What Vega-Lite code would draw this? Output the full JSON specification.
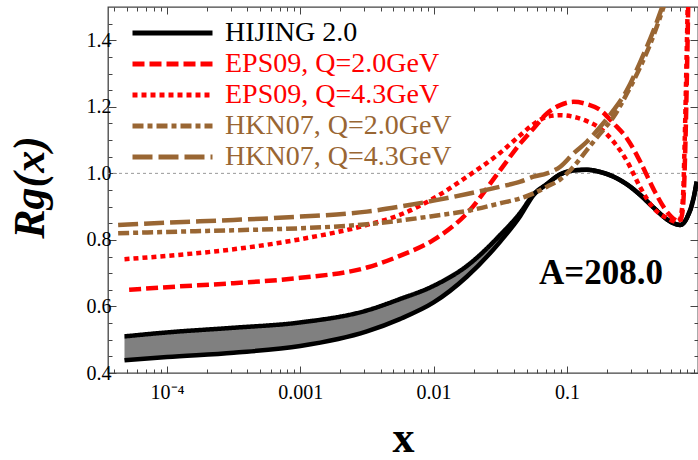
{
  "$schema": "https://vega.github.io/schema/vega-lite/v6.json",
  "width": 590,
  "height": 366,
  "autosize": {"type": "none"},
  "padding": {"left": 108, "top": 7, "right": 0, "bottom": 87},
  "background": "white",
  "config": {
    "view": {"stroke": "#444", "strokeWidth": 1.3},
    "font": "Liberation Serif",
    "axis": {"domain": false, "grid": false, "tickColor": "#444", "tickWidth": 1, "labelFont": "Liberation Serif", "labelFontSize": 20, "labelColor": "black", "titleFont": "Liberation Serif", "titleColor": "black"}
  },
  "datasets": {
    "band": [
      {"x": 4.8e-5, "lo": 0.438, "hi": 0.51},
      {"x": 1e-4, "lo": 0.448, "hi": 0.522},
      {"x": 3.16e-4, "lo": 0.461, "hi": 0.536},
      {"x": 1e-3, "lo": 0.481, "hi": 0.552},
      {"x": 3.16e-3, "lo": 0.525, "hi": 0.588},
      {"x": 5.57e-3, "lo": 0.562, "hi": 0.622},
      {"x": 0.01, "lo": 0.612, "hi": 0.662},
      {"x": 0.0178, "lo": 0.69, "hi": 0.722},
      {"x": 0.0316, "lo": 0.795, "hi": 0.815},
      {"x": 0.0447, "lo": 0.872, "hi": 0.882},
      {"x": 0.0562, "lo": 0.935, "hi": 0.937},
      {"x": 0.0708, "lo": 0.968, "hi": 0.968},
      {"x": 0.0891, "lo": 0.997, "hi": 0.997},
      {"x": 0.112, "lo": 1.009, "hi": 1.009},
      {"x": 0.141, "lo": 1.011, "hi": 1.011},
      {"x": 0.178, "lo": 1.004, "hi": 1.004},
      {"x": 0.224, "lo": 0.99, "hi": 0.99},
      {"x": 0.282, "lo": 0.967, "hi": 0.967},
      {"x": 0.355, "lo": 0.935, "hi": 0.935},
      {"x": 0.447, "lo": 0.897, "hi": 0.897},
      {"x": 0.562, "lo": 0.862, "hi": 0.862},
      {"x": 0.631, "lo": 0.85, "hi": 0.85},
      {"x": 0.708, "lo": 0.845, "hi": 0.845},
      {"x": 0.794, "lo": 0.866, "hi": 0.866},
      {"x": 0.891, "lo": 0.925, "hi": 0.925},
      {"x": 0.94, "lo": 0.975, "hi": 0.975}
    ],
    "curves": [
      {"series": "HIJING 2.0", "x": 4.8e-5, "y": 0.51},
      {"series": "HIJING 2.0", "x": 1e-4, "y": 0.522},
      {"series": "HIJING 2.0", "x": 3.16e-4, "y": 0.536},
      {"series": "HIJING 2.0", "x": 1e-3, "y": 0.552},
      {"series": "HIJING 2.0", "x": 3.16e-3, "y": 0.588},
      {"series": "HIJING 2.0", "x": 5.57e-3, "y": 0.622},
      {"series": "HIJING 2.0", "x": 0.01, "y": 0.662},
      {"series": "HIJING 2.0", "x": 0.0178, "y": 0.722},
      {"series": "HIJING 2.0", "x": 0.0316, "y": 0.815},
      {"series": "HIJING 2.0", "x": 0.0447, "y": 0.882},
      {"series": "HIJING 2.0", "x": 0.0562, "y": 0.937},
      {"series": "HIJING 2.0", "x": 0.0708, "y": 0.968},
      {"series": "HIJING 2.0", "x": 0.0891, "y": 0.997},
      {"series": "HIJING 2.0", "x": 0.112, "y": 1.009},
      {"series": "HIJING 2.0", "x": 0.141, "y": 1.011},
      {"series": "HIJING 2.0", "x": 0.178, "y": 1.004},
      {"series": "HIJING 2.0", "x": 0.224, "y": 0.99},
      {"series": "HIJING 2.0", "x": 0.282, "y": 0.967},
      {"series": "HIJING 2.0", "x": 0.355, "y": 0.935},
      {"series": "HIJING 2.0", "x": 0.447, "y": 0.897},
      {"series": "HIJING 2.0", "x": 0.562, "y": 0.862},
      {"series": "HIJING 2.0", "x": 0.631, "y": 0.85},
      {"series": "HIJING 2.0", "x": 0.708, "y": 0.845},
      {"series": "HIJING 2.0", "x": 0.794, "y": 0.866},
      {"series": "HIJING 2.0", "x": 0.891, "y": 0.925},
      {"series": "HIJING 2.0", "x": 0.94, "y": 0.975},

      {"series": "EPS09, Q=2.0GeV", "x": 5.2e-5, "y": 0.65},
      {"series": "EPS09, Q=2.0GeV", "x": 1e-4, "y": 0.658},
      {"series": "EPS09, Q=2.0GeV", "x": 3.16e-4, "y": 0.67},
      {"series": "EPS09, Q=2.0GeV", "x": 1e-3, "y": 0.686},
      {"series": "EPS09, Q=2.0GeV", "x": 3.16e-3, "y": 0.717},
      {"series": "EPS09, Q=2.0GeV", "x": 5.57e-3, "y": 0.752},
      {"series": "EPS09, Q=2.0GeV", "x": 0.01, "y": 0.8},
      {"series": "EPS09, Q=2.0GeV", "x": 0.0178, "y": 0.88},
      {"series": "EPS09, Q=2.0GeV", "x": 0.0316, "y": 1.01},
      {"series": "EPS09, Q=2.0GeV", "x": 0.0447, "y": 1.09},
      {"series": "EPS09, Q=2.0GeV", "x": 0.0562, "y": 1.135},
      {"series": "EPS09, Q=2.0GeV", "x": 0.0708, "y": 1.18},
      {"series": "EPS09, Q=2.0GeV", "x": 0.0891, "y": 1.205},
      {"series": "EPS09, Q=2.0GeV", "x": 0.112, "y": 1.215},
      {"series": "EPS09, Q=2.0GeV", "x": 0.141, "y": 1.208},
      {"series": "EPS09, Q=2.0GeV", "x": 0.178, "y": 1.19},
      {"series": "EPS09, Q=2.0GeV", "x": 0.224, "y": 1.15},
      {"series": "EPS09, Q=2.0GeV", "x": 0.282, "y": 1.105},
      {"series": "EPS09, Q=2.0GeV", "x": 0.355, "y": 1.035},
      {"series": "EPS09, Q=2.0GeV", "x": 0.447, "y": 0.952},
      {"series": "EPS09, Q=2.0GeV", "x": 0.562, "y": 0.885},
      {"series": "EPS09, Q=2.0GeV", "x": 0.65, "y": 0.86},
      {"series": "EPS09, Q=2.0GeV", "x": 0.7, "y": 0.855},
      {"series": "EPS09, Q=2.0GeV", "x": 0.73, "y": 0.875},
      {"series": "EPS09, Q=2.0GeV", "x": 0.755, "y": 0.95},
      {"series": "EPS09, Q=2.0GeV", "x": 0.775, "y": 1.1},
      {"series": "EPS09, Q=2.0GeV", "x": 0.795, "y": 1.3},
      {"series": "EPS09, Q=2.0GeV", "x": 0.82, "y": 1.6},

      {"series": "EPS09, Q=4.3GeV", "x": 4.8e-5, "y": 0.742},
      {"series": "EPS09, Q=4.3GeV", "x": 1e-4, "y": 0.752},
      {"series": "EPS09, Q=4.3GeV", "x": 3.16e-4, "y": 0.772},
      {"series": "EPS09, Q=4.3GeV", "x": 1e-3, "y": 0.802},
      {"series": "EPS09, Q=4.3GeV", "x": 3.16e-3, "y": 0.845},
      {"series": "EPS09, Q=4.3GeV", "x": 5.57e-3, "y": 0.875},
      {"series": "EPS09, Q=4.3GeV", "x": 0.01, "y": 0.925},
      {"series": "EPS09, Q=4.3GeV", "x": 0.0178, "y": 0.99},
      {"series": "EPS09, Q=4.3GeV", "x": 0.0316, "y": 1.062},
      {"series": "EPS09, Q=4.3GeV", "x": 0.0447, "y": 1.115},
      {"series": "EPS09, Q=4.3GeV", "x": 0.0562, "y": 1.148},
      {"series": "EPS09, Q=4.3GeV", "x": 0.0708, "y": 1.17},
      {"series": "EPS09, Q=4.3GeV", "x": 0.0891, "y": 1.175},
      {"series": "EPS09, Q=4.3GeV", "x": 0.112, "y": 1.17},
      {"series": "EPS09, Q=4.3GeV", "x": 0.141, "y": 1.157},
      {"series": "EPS09, Q=4.3GeV", "x": 0.178, "y": 1.135},
      {"series": "EPS09, Q=4.3GeV", "x": 0.224, "y": 1.095},
      {"series": "EPS09, Q=4.3GeV", "x": 0.282, "y": 1.037},
      {"series": "EPS09, Q=4.3GeV", "x": 0.355, "y": 0.958},
      {"series": "EPS09, Q=4.3GeV", "x": 0.447, "y": 0.895},
      {"series": "EPS09, Q=4.3GeV", "x": 0.562, "y": 0.866},
      {"series": "EPS09, Q=4.3GeV", "x": 0.65, "y": 0.855},
      {"series": "EPS09, Q=4.3GeV", "x": 0.7, "y": 0.86},
      {"series": "EPS09, Q=4.3GeV", "x": 0.74, "y": 0.92},
      {"series": "EPS09, Q=4.3GeV", "x": 0.765, "y": 1.1},
      {"series": "EPS09, Q=4.3GeV", "x": 0.79, "y": 1.35},
      {"series": "EPS09, Q=4.3GeV", "x": 0.815, "y": 1.6},

      {"series": "HKN07, Q=2.0GeV", "x": 4.3e-5, "y": 0.82},
      {"series": "HKN07, Q=2.0GeV", "x": 1e-4, "y": 0.824},
      {"series": "HKN07, Q=2.0GeV", "x": 3.16e-4, "y": 0.829},
      {"series": "HKN07, Q=2.0GeV", "x": 1e-3, "y": 0.835},
      {"series": "HKN07, Q=2.0GeV", "x": 3.16e-3, "y": 0.847},
      {"series": "HKN07, Q=2.0GeV", "x": 5.57e-3, "y": 0.858},
      {"series": "HKN07, Q=2.0GeV", "x": 0.01, "y": 0.872},
      {"series": "HKN07, Q=2.0GeV", "x": 0.0178, "y": 0.887},
      {"series": "HKN07, Q=2.0GeV", "x": 0.0316, "y": 0.91},
      {"series": "HKN07, Q=2.0GeV", "x": 0.0447, "y": 0.925},
      {"series": "HKN07, Q=2.0GeV", "x": 0.0562, "y": 0.94},
      {"series": "HKN07, Q=2.0GeV", "x": 0.0708, "y": 0.96},
      {"series": "HKN07, Q=2.0GeV", "x": 0.0891, "y": 0.982},
      {"series": "HKN07, Q=2.0GeV", "x": 0.112, "y": 1.02},
      {"series": "HKN07, Q=2.0GeV", "x": 0.141, "y": 1.07},
      {"series": "HKN07, Q=2.0GeV", "x": 0.178, "y": 1.12},
      {"series": "HKN07, Q=2.0GeV", "x": 0.224, "y": 1.17},
      {"series": "HKN07, Q=2.0GeV", "x": 0.282, "y": 1.24},
      {"series": "HKN07, Q=2.0GeV", "x": 0.355, "y": 1.32},
      {"series": "HKN07, Q=2.0GeV", "x": 0.447, "y": 1.415},
      {"series": "HKN07, Q=2.0GeV", "x": 0.562, "y": 1.53},

      {"series": "HKN07, Q=4.3GeV", "x": 4.3e-5, "y": 0.845},
      {"series": "HKN07, Q=4.3GeV", "x": 1e-4, "y": 0.852},
      {"series": "HKN07, Q=4.3GeV", "x": 3.16e-4, "y": 0.86},
      {"series": "HKN07, Q=4.3GeV", "x": 1e-3, "y": 0.87},
      {"series": "HKN07, Q=4.3GeV", "x": 3.16e-3, "y": 0.885},
      {"series": "HKN07, Q=4.3GeV", "x": 5.57e-3, "y": 0.9},
      {"series": "HKN07, Q=4.3GeV", "x": 0.01, "y": 0.918},
      {"series": "HKN07, Q=4.3GeV", "x": 0.0178, "y": 0.938},
      {"series": "HKN07, Q=4.3GeV", "x": 0.0316, "y": 0.96},
      {"series": "HKN07, Q=4.3GeV", "x": 0.0447, "y": 0.975},
      {"series": "HKN07, Q=4.3GeV", "x": 0.0562, "y": 0.99},
      {"series": "HKN07, Q=4.3GeV", "x": 0.0708, "y": 1.0},
      {"series": "HKN07, Q=4.3GeV", "x": 0.0891, "y": 1.02},
      {"series": "HKN07, Q=4.3GeV", "x": 0.112, "y": 1.06},
      {"series": "HKN07, Q=4.3GeV", "x": 0.141, "y": 1.095},
      {"series": "HKN07, Q=4.3GeV", "x": 0.178, "y": 1.14},
      {"series": "HKN07, Q=4.3GeV", "x": 0.224, "y": 1.19},
      {"series": "HKN07, Q=4.3GeV", "x": 0.282, "y": 1.25},
      {"series": "HKN07, Q=4.3GeV", "x": 0.355, "y": 1.335},
      {"series": "HKN07, Q=4.3GeV", "x": 0.447, "y": 1.43},
      {"series": "HKN07, Q=4.3GeV", "x": 0.562, "y": 1.54}
    ],
    "note": [{"x": 0.18, "y": 0.7, "t": "A=208.0"}],
    "unity": [{"y": 1.0}]
  },
  "layer": [
    {
      "data": {"name": "band"},
      "mark": {"type": "area", "color": "#808080", "opacity": 1, "interpolate": "monotone", "clip": true},
      "encoding": {
        "x": {"field": "x", "type": "quantitative", "scale": {"type": "log", "domain": [3.61e-5, 0.962], "nice": false},
          "axis": {"orient": "bottom", "values": [0.0001, 0.001, 0.01, 0.1], "tickSize": -7, "labelPadding": 16,
            "labelExpr": "datum.value < 0.0005 ? '10⁻⁴' : datum.value < 0.005 ? '0.001' : datum.value < 0.05 ? '0.01' : '0.1'",
            "title": "x", "titleFontSize": 44, "titleFontWeight": "bold", "titleX": 295, "titleY": 78, "titleBaseline": "alphabetic", "titleAlign": "center"}},
        "y": {"field": "lo", "type": "quantitative", "scale": {"domain": [0.4, 1.5], "nice": false, "zero": false},
          "axis": {"orient": "left", "values": [0.4, 0.6, 0.8, 1.0, 1.2, 1.4], "tickSize": -8, "format": ".1f", "labelPadding": 5,
            "title": "Rg(x)", "titleFontSize": 44, "titleFontWeight": "bold", "titleFontStyle": "italic", "titleX": -65, "titleY": 180, "titleBaseline": "alphabetic", "titleAlign": "center", "titleAngle": 270}},
        "y2": {"field": "hi"}
      }
    },
    {
      "data": {"name": "unity"},
      "mark": {"type": "rule", "color": "#999999", "strokeWidth": 1, "strokeDash": [3, 3]},
      "encoding": {"y": {"field": "y", "type": "quantitative", "axis": null}}
    },
    {
      "data": {"name": "band"},
      "mark": {"type": "line", "color": "black", "strokeWidth": 4.5, "interpolate": "monotone", "clip": true},
      "encoding": {
        "x": {"field": "x", "type": "quantitative",
          "axis": {"orient": "bottom", "values": [4e-5, 5e-5, 6e-5, 7e-5, 8e-5, 9e-5, 2e-4, 3e-4, 4e-4, 5e-4, 6e-4, 7e-4, 8e-4, 9e-4, 2e-3, 3e-3, 4e-3, 5e-3, 6e-3, 7e-3, 8e-3, 9e-3, 0.02, 0.03, 0.04, 0.05, 0.06, 0.07, 0.08, 0.09, 0.2, 0.3, 0.4, 0.5, 0.6, 0.7, 0.8, 0.9], "tickSize": -4, "labels": false, "title": null}},
        "y": {"field": "lo", "type": "quantitative",
          "axis": {"orient": "left", "values": [0.45, 0.5, 0.55, 0.65, 0.7, 0.75, 0.85, 0.9, 0.95, 1.05, 1.1, 1.15, 1.25, 1.3, 1.35, 1.45], "tickSize": -4, "labels": false, "title": null}}
      }
    },
    {
      "data": {"name": "curves"},
      "mark": {"type": "line", "strokeWidth": 4.5, "interpolate": "monotone", "clip": true, "strokeCap": "butt"},
      "encoding": {
        "x": {"field": "x", "type": "quantitative",
          "axis": {"orient": "top", "values": [0.0001, 0.001, 0.01, 0.1], "tickSize": -7, "labels": false, "title": null}},
        "y": {"field": "y", "type": "quantitative",
          "axis": {"orient": "right", "values": [0.4, 0.6, 0.8, 1.0, 1.2, 1.4], "tickSize": -8, "labels": false, "title": null}},
        "color": {"field": "series", "type": "nominal",
          "scale": {"domain": ["HIJING 2.0", "EPS09, Q=2.0GeV", "EPS09, Q=4.3GeV", "HKN07, Q=2.0GeV", "HKN07, Q=4.3GeV"], "range": ["#000000", "#ff0000", "#ff0000", "#996633", "#996633"]},
          "legend": {"title": null, "orient": "none", "legendX": 22, "legendY": 11, "symbolType": "stroke", "symbolSize": 6400, "symbolStrokeWidth": 5, "labelFont": "Liberation Serif", "labelFontSize": 28, "labelOffset": 10, "clipHeight": 30, "rowPadding": 1, "labelLimit": 400, "padding": 0,
            "encode": {"labels": {"update": {"fill": {"signal": "scale('color', datum.value)"}}}}}},
        "strokeDash": {"field": "series", "type": "nominal",
          "scale": {"domain": ["HIJING 2.0", "EPS09, Q=2.0GeV", "EPS09, Q=4.3GeV", "HKN07, Q=2.0GeV", "HKN07, Q=4.3GeV"], "range": [[1, 0], [12, 5], [5, 4], [11, 4, 5, 4], [20, 6]]},
          "legend": {"title": null, "orient": "none", "legendX": 22, "legendY": 11, "symbolType": "stroke", "symbolSize": 6400, "symbolStrokeWidth": 5, "labelFont": "Liberation Serif", "labelFontSize": 28, "labelOffset": 10, "clipHeight": 30, "rowPadding": 1, "labelLimit": 400, "padding": 0,
            "encode": {"labels": {"update": {"fill": {"signal": "scale('color', datum.value)"}}}}}}
      }
    },
    {
      "data": {"name": "note"},
      "mark": {"type": "text", "font": "Liberation Serif", "fontSize": 35, "fontWeight": "bold", "align": "center", "baseline": "middle", "color": "black"},
      "encoding": {
        "x": {"field": "x", "type": "quantitative",
          "axis": {"orient": "top", "values": [4e-5, 5e-5, 6e-5, 7e-5, 8e-5, 9e-5, 2e-4, 3e-4, 4e-4, 5e-4, 6e-4, 7e-4, 8e-4, 9e-4, 2e-3, 3e-3, 4e-3, 5e-3, 6e-3, 7e-3, 8e-3, 9e-3, 0.02, 0.03, 0.04, 0.05, 0.06, 0.07, 0.08, 0.09, 0.2, 0.3, 0.4, 0.5, 0.6, 0.7, 0.8, 0.9], "tickSize": -4, "labels": false, "title": null}},
        "y": {"field": "y", "type": "quantitative",
          "axis": {"orient": "right", "values": [0.45, 0.5, 0.55, 0.65, 0.7, 0.75, 0.85, 0.9, 0.95, 1.05, 1.1, 1.15, 1.25, 1.3, 1.35, 1.45], "tickSize": -4, "labels": false, "title": null}},
        "text": {"field": "t"}
      }
    }
  ],
  "resolve": {"axis": {"x": "independent", "y": "independent"}}
}
